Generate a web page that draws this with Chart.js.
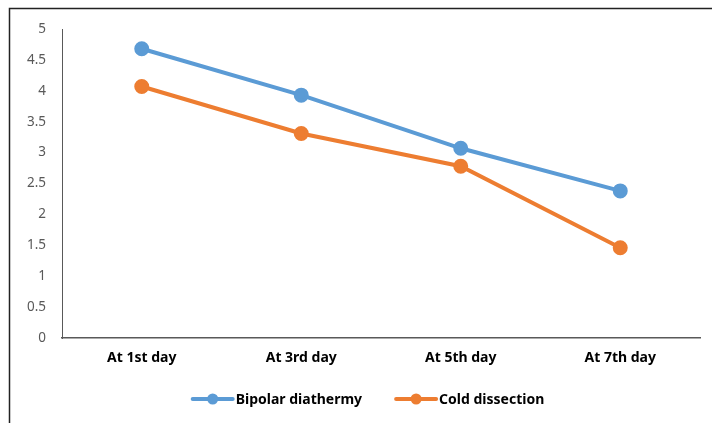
<!DOCTYPE html>
<html><head><meta charset="utf-8">
<script src="https://cdn.jsdelivr.net/npm/chart.js@4/dist/chart.umd.min.js"></script>
<style>html,body{margin:0;padding:0;background:#fff}#wrap{width:712px;height:423px;position:relative}</style>
</head><body><div id="wrap"><canvas id="c" width="712" height="423"></canvas></div>
<script>
const categories = ["At 1st day", "At 3rd day", "At 5th day", "At 7th day"];
const bipolar = [4.68, 3.93, 3.07, 2.38];
const cold = [4.07, 3.31, 2.78, 1.46];
const seriesNames = ["Bipolar diathermy", "Cold dissection"];
const yTicks = [0, 0.5, 1, 1.5, 2, 2.5, 3, 3.5, 4, 4.5, 5];
const colors = ["#5B9BD5", "#ED7D31"];
const FONT = "'Noto Sans', 'Open Sans', sans-serif";

const frame = {
  id:'frame',
  afterDraw(chart){
    const ctx = chart.ctx;
    ctx.save();
    ctx.strokeStyle = '#222'; ctx.lineWidth = 1.5;
    ctx.beginPath(); ctx.moveTo(9.5,423); ctx.lineTo(9.5,8.5); ctx.lineTo(712,8.5); ctx.stroke();
    // legend (line + marker style)
    ctx.font = "bold 14px " + FONT;
    ctx.textBaseline = 'middle';
    const cy = 399;
    const iconW = 42, gapText = 2, gapItem = 33;
    const items = chart.data.datasets.map((d,i)=>({text:d.label, color:d.borderColor, w: iconW + gapText + ctx.measureText(d.label).width}));
    const total = items.reduce((a,b)=>a+b.w,0) + gapItem*(items.length-1);
    let x = 368 - total/2;
    items.forEach(it=>{
      ctx.strokeStyle = it.color; ctx.lineWidth = 4; ctx.lineCap='round';
      ctx.beginPath(); ctx.moveTo(x+1,cy); ctx.lineTo(x+iconW-1,cy); ctx.stroke();
      ctx.fillStyle = it.color; ctx.beginPath(); ctx.arc(x+iconW/2,cy,5.5,0,Math.PI*2); ctx.fill();
      ctx.fillStyle = '#000'; ctx.textAlign='left';
      ctx.fillText(it.text, x+iconW+gapText, cy+1);
      x += it.w + gapItem;
    });
    ctx.restore();
  }
};

new Chart(document.getElementById('c'), {
  type:'line',
  data:{
    labels: categories,
    datasets:[
      {label: seriesNames[0], data: bipolar, borderColor: colors[0], backgroundColor: colors[0], borderWidth: 4, pointRadius: 5.5, pointHoverRadius: 5.5, pointStyle: 'circle', tension: 0},
      {label: seriesNames[1], data: cold, borderColor: colors[1], backgroundColor: colors[1], borderWidth: 4, pointRadius: 5.5, pointHoverRadius: 5.5, pointStyle: 'circle', tension: 0}
    ]
  },
  options:{
    responsive:false, animation:false,
    layout:{padding:{left:10, top:29, right:12, bottom:41}},
    plugins:{ tooltip:{enabled:false}, legend:{display:false} },
    scales:{
      x:{
        offset:true,
        grid:{display:false, drawTicks:false},
        border:{display:true, color:'#595959', width:1.5},
        ticks:{color:'#000', font:{family:FONT, size:14, weight:'bold'}, padding:12},
        afterFit(s){ s.height = 44; }
      },
      y:{
        min:0, max:5,
        afterBuildTicks(s){ s.ticks = yTicks.map(v=>({value:v})); },
        grid:{display:false, drawTicks:false},
        border:{display:true, color:'#595959', width:1},
        ticks:{color:'#595959', font:{family:FONT, size:13.5}, padding:16, callback:(v)=>String(v)},
        afterFit(s){ s.width = 52; }
      }
    }
  },
  plugins:[frame]
});
</script></body></html>
